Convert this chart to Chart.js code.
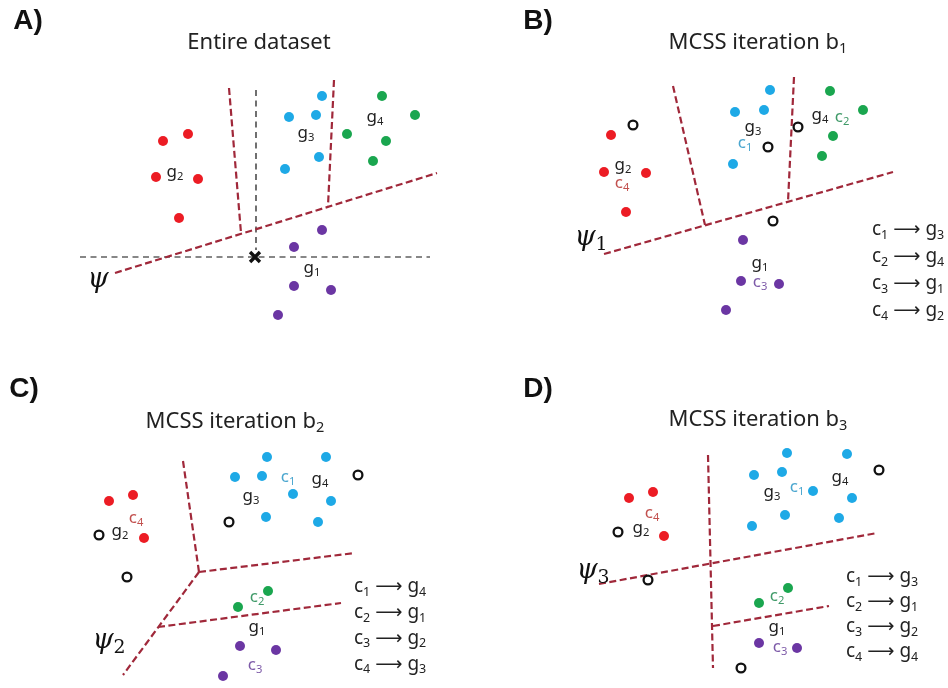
<!DOCTYPE html>
<html><head><meta charset="utf-8">
<script src="https://cdn.jsdelivr.net/npm/chart.js@4"></script>
<style>html,body{margin:0;padding:0;background:#fff}#wrap{width:948px;height:688px;position:relative}</style>
</head><body><div id="wrap"><canvas id="c" width="948" height="688"></canvas></div>
<script>
// ---------- data (diagram coordinates) ----------
const redPoints = [[163,141],[188,134],[156,177],[198,179],[179,218],
  [611,135],[604,172],[646,173],[626,212],
  [109,501],[133,495],[144,538],
  [629,498],[653,492],[664,536]];
const bluePoints = [[322,96],[289,117],[316,115],[319,157],[285,169],
  [770,90],[735,112],[764,110],[733,164],
  [267,457],[235,477],[262,476],[293,494],[266,517],[326,457],[331,501],[318,522],
  [787,453],[754,475],[782,472],[813,491],[785,515],[752,526],[847,454],[852,498],[839,518]];
const greenPoints = [[382,96],[415,115],[347,134],[386,141],[373,161],
  [830,91],[863,110],[833,136],[822,156],
  [268,591],[238,607],
  [788,588],[759,603]];
const purplePoints = [[322,230],[294,247],[294,286],[331,290],[278,315],
  [743,240],[741,281],[779,284],[726,310],
  [240,646],[276,650],[223,676],
  [759,643],[797,648]];
const openPoints = [[633,125],[768,147],[798,127],[773,221],
  [99,535],[127,577],[229,522],[358,475],
  [618,532],[648,580],[741,668],[879,470]];
const crossPoints = [[255,257]];
const boundarySegments = [
  [[115,273],[437,173]],[[229,88],[241,233]],[[334,80],[328,206]],
  [[604,254],[893,172]],[[673,86],[705,225]],[[794,77],[788,202]],
  [[183,461],[199,572]],[[199,572],[355,553]],[[199,572],[123,675]],[[158,627],[341,603]],
  [[708,455],[713,668]],[[599,584],[877,533]],[[713,626],[829,606]]];
const guideSegments = [[[80,257],[430,257]],[[256,90],[256,250]]];
const panelTags = [['A)',28,21],['B)',538,21],['C)',24,389],['D)',538,389]];
const titles = [['Entire dataset',259,43],['MCSS iteration b₁',758,43],['MCSS iteration b₂',235,422],['MCSS iteration b₃',758,420]];
const groupLabels = [['g₂',175,172],['g₃',306,133],['g₄',375,117],['g₁',312,268],
  ['g₂',623,165],['g₃',753,127],['g₄',820,115],['g₁',760,263],
  ['g₂',120,531],['g₄',320,479],['g₃',251,496],['g₁',257,627],
  ['g₂',641,528],['g₃',772,492],['g₄',840,477],['g₁',777,627]];
const clusterLabels = [['c₄',622,183],['c₁',745,143],['c₂',842,117],['c₃',760,282],
  ['c₄',136,518],['c₁',288,477],['c₂',257,597],['c₃',255,665],
  ['c₄',652,513],['c₁',797,487],['c₂',777,596],['c₃',780,647]];
const psiLabels = [['ψ',98,280],['ψ₁',591,238],['ψ₂',109,641],['ψ₃',593,571]];
const mappingB = ['c₁ ⟶ g₃','c₂ ⟶ g₄','c₃ ⟶ g₁','c₄ ⟶ g₂'];
const mappingC = ['c₁ ⟶ g₄','c₂ ⟶ g₁','c₃ ⟶ g₂','c₄ ⟶ g₃'];
const mappingD = ['c₁ ⟶ g₃','c₂ ⟶ g₁','c₃ ⟶ g₂','c₄ ⟶ g₄'];
const mappingAnchors = [[872,230],[354,587],[846,577]];
const mappingStep = [27,25.7,25];

// ---------- styles ----------
const COL = {red:'#ec1c24', blue:'#1ea9e6', green:'#1aa64f', purple:'#6b36a3', line:'#a0283a'};
const CCOL = {'c₁':'#4aa6cf','c₂':'#3f9a68','c₃':'#7d5aa8','c₄':'#c2504e'};

const pts = a => a.map(p => ({x:p[0], y:p[1]}));
const datasets = [];
boundarySegments.forEach(s => datasets.push({data:pts(s), showLine:true, borderColor:COL.line, borderWidth:2.2, borderDash:[7,3.5], pointRadius:0, order:3}));
guideSegments.forEach(s => datasets.push({data:pts(s), showLine:true, borderColor:'#111', borderWidth:1.2, borderDash:[6,4.5], pointRadius:0, order:3}));
[[redPoints,COL.red],[bluePoints,COL.blue],[greenPoints,COL.green],[purplePoints,COL.purple]].forEach(([a,c]) =>
  datasets.push({data:pts(a), backgroundColor:c, borderColor:c, pointRadius:5, borderWidth:0, order:1}));
datasets.push({data:pts(openPoints), backgroundColor:'#fff', borderColor:'#111', pointRadius:4.4, borderWidth:2.3, order:1});
datasets.push({data:pts(crossPoints), pointStyle:'crossRot', borderColor:'#111', pointRadius:7, borderWidth:3.4, order:1});

const SUB = {'₀':'0','₁':'1','₂':'2','₃':'3','₄':'4','₅':'5','₆':'6','₇':'7','₈':'8','₉':'9'};
function runs(str){
  const out=[]; for(const ch of str){ const sub = SUB[ch]!==undefined; const t = sub?SUB[ch]:ch;
    if(out.length && out[out.length-1].sub===sub) out[out.length-1].t+=t; else out.push({t, sub}); }
  return out;
}
function drawRich(ctx, str, px, py, size, family, color, align, style, subFamily, subScale){
  const main = (style||'') + ' ' + size + 'px ' + family;
  const small = (subFamily ? '' : (style||'')) + ' ' + (size*(subScale||0.66)).toFixed(1) + 'px ' + (subFamily||family);
  const rs = runs(str);
  let w = 0;
  rs.forEach(r => { ctx.font = r.sub?small:main; r.w = ctx.measureText(r.t).width; w += r.w; });
  let cx = align==='center' ? px - w/2 : px;
  ctx.fillStyle = color; ctx.textAlign='left'; ctx.textBaseline='middle';
  rs.forEach(r => { ctx.font = r.sub?small:main; ctx.fillText(r.t, cx, py + (r.sub?size*0.28:0)); cx += r.w; });
}

const textPlugin = {
  id:'diagramText',
  afterDatasetsDraw(chart){
    const ctx = chart.ctx, X = chart.scales.x, Y = chart.scales.y;
    const P = (x,y) => [X.getPixelForValue(x), Y.getPixelForValue(y)];
    ctx.save();
    const SANS = '"Noto Sans", "DejaVu Sans", sans-serif';
    panelTags.forEach(([t,x,y]) => { const [a,b]=P(x,y); drawRich(ctx,t,a,b,28,'"Liberation Sans", Arial, sans-serif','#111','center','bold'); });
    titles.forEach(([t,x,y]) => { const [a,b]=P(x,y); drawRich(ctx,t,a,b,22,SANS,'#222','center'); });
    groupLabels.forEach(([t,x,y]) => { const [a,b]=P(x,y); drawRich(ctx,t,a,b,17,SANS,'#222','center'); });
    clusterLabels.forEach(([t,x,y]) => { const [a,b]=P(x,y); drawRich(ctx,t,a,b,17,SANS,CCOL[t],'center'); });
    psiLabels.forEach(([t,x,y]) => { const [a,b]=P(x,y); drawRich(ctx,t,a,b,27,'"DejaVu Serif", "Liberation Serif", serif','#111','center','italic','"DejaVu Serif", serif',0.7); });
    [mappingB,mappingC,mappingD].forEach((m,i) => {
      m.forEach((t,j) => { const [a,b]=P(mappingAnchors[i][0], mappingAnchors[i][1]+j*mappingStep[i]); drawRich(ctx,t,a,b,19,SANS,'#222','left'); });
    });
    ctx.restore();
  }
};

new Chart(document.getElementById('c'), {
  type:'scatter',
  data:{datasets},
  options:{
    responsive:false, animation:false, events:[],
    layout:{padding:0, autoPadding:false},
    plugins:{legend:{display:false}, tooltip:{enabled:false}},
    scales:{
      x:{type:'linear', min:0, max:948, display:false},
      y:{type:'linear', min:0, max:688, reverse:true, display:false}
    }
  },
  plugins:[textPlugin, {id:'bg', beforeDraw(c){const g=c.ctx; g.save(); g.fillStyle='#fff'; g.fillRect(0,0,c.width,c.height); g.restore();}}]
});
</script></body></html>
